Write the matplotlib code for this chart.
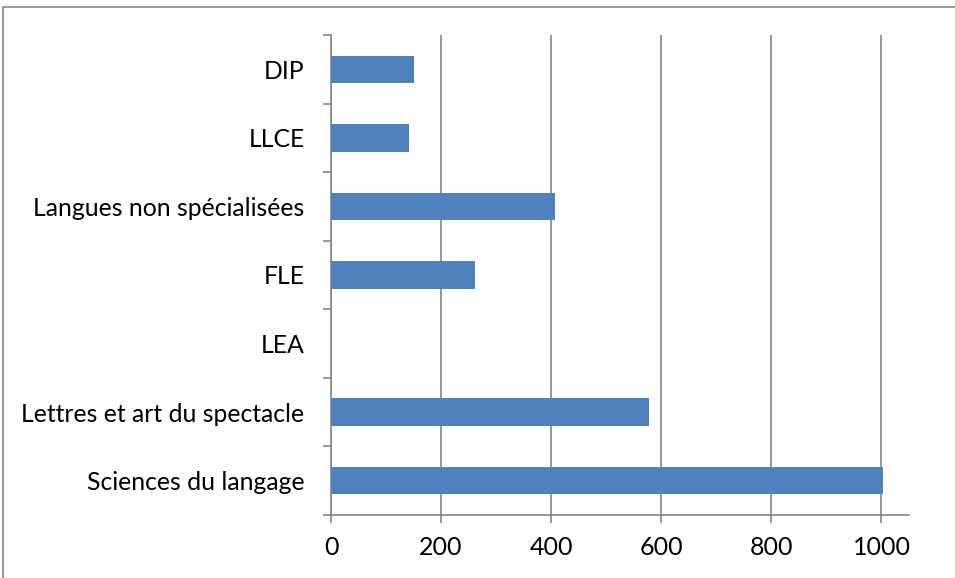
import numpy as np
import matplotlib
matplotlib.use("Agg")
import matplotlib.pyplot as plt
from matplotlib.patches import Rectangle

# values, bottom to top
categories = ["Sciences du langage", "Lettres et art du spectacle", "LEA", "FLE",
              "Langues non spécialisées", "LLCE", "DIP"]
values = [1003, 578, 0, 262, 407, 142, 151]
xticks = [0, 200, 400, 600, 800, 1000]

plt.rcParams['font.family'] = ['Lato', 'DejaVu Sans']
grey = "#868686"
blue = "#4F81BD"

fig = plt.figure(figsize=(9.55, 5.78), dpi=100)
ax = fig.add_axes([331 / 955, 1 - 515 / 578, 578 / 955, 480 / 578])

y = np.arange(len(categories))
ax.barh(y, values, height=0.4, color=blue, zorder=3)

ax.set_xlim(0, 1050)
ax.set_ylim(-0.5, len(categories) - 0.5)

# vertical gridlines
ax.set_xticks(xticks)
ax.set_xticklabels([str(v) for v in xticks])
ax.grid(axis="x", color=grey, linewidth=1.2, zorder=0)
ax.set_axisbelow(True)

# category labels centred, ticks on the boundaries
ax.set_yticks(y)
ax.set_yticklabels(categories)
ax.set_yticks(np.arange(-0.5, len(categories)), minor=True)
ax.tick_params(axis="y", which="major", length=0, pad=19, labelsize=17.8)
ax.tick_params(axis="y", which="minor", length=6, width=1.2, color=grey, direction="out")
ax.tick_params(axis="x", length=6, width=1.2, color=grey, direction="out", pad=9, labelsize=18)

for side in ["top", "right"]:
    ax.spines[side].set_visible(False)
for side in ["left", "bottom"]:
    ax.spines[side].set_color(grey)
    ax.spines[side].set_linewidth(1.2)

# outer chart frame (only left and top edges show in the crop)
frame = Rectangle((3 / 955, -0.05), 1.2, 1.05 - 7 / 578, transform=fig.transFigure,
                  fill=False, edgecolor=grey, linewidth=1.2, clip_on=False)
fig.patches.append(frame)

fig.savefig("out.png", dpi=100)
